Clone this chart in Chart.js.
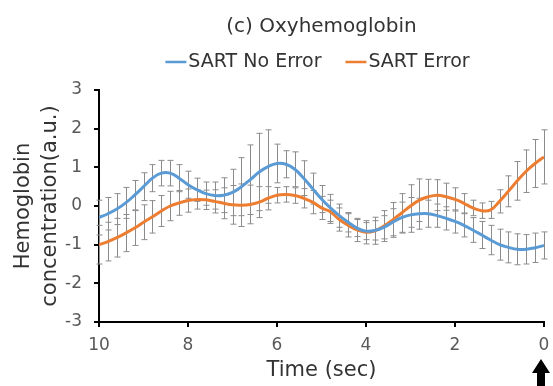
<!DOCTYPE html>
<html>
<head>
<meta charset="utf-8">
<script src="https://cdn.jsdelivr.net/npm/chart.js@4"></script>
<style>
  html, body { margin: 0; padding: 0; background: #fff; }
  #wrap { width: 553px; height: 386px; }
</style>
</head>
<body>
<div id="wrap"><canvas id="mychart" width="553" height="386"></canvas></div>
<script>
// time (sec) counted back to the event
var times = [10, 9.8, 9.6, 9.4, 9.2, 9, 8.8, 8.6, 8.4, 8.2, 8, 7.8, 7.6, 7.4, 7.2, 7, 6.8, 6.6, 6.4, 6.2,
  6, 5.8, 5.6, 5.4, 5.2, 5, 4.8, 4.6, 4.4, 4.2, 4, 3.8, 3.6, 3.4, 3.2, 3, 2.8, 2.6, 2.4, 2.2,
  2, 1.8, 1.6, 1.4, 1.2, 1, 0.8, 0.6, 0.4, 0.2, 0];

var noError = [-0.3, -0.2, -0.08, 0.08, 0.28, 0.5, 0.72, 0.85, 0.85, 0.72, 0.55, 0.42, 0.32, 0.27, 0.28, 0.35, 0.5, 0.68, 0.88, 1.02,
  1.1, 1.08, 0.95, 0.72, 0.45, 0.18, -0.05, -0.25, -0.42, -0.57, -0.65, -0.63, -0.55, -0.42, -0.3, -0.23, -0.2, -0.2, -0.25, -0.32,
  -0.4, -0.5, -0.62, -0.75, -0.88, -1.0, -1.07, -1.12, -1.12, -1.08, -1.02];
var noErrorSd = [0.45, 0.42, 0.4, 0.4, 0.38, 0.36, 0.35, 0.33, 0.33, 0.35, 0.35, 0.3, 0.3, 0.35, 0.45, 0.6, 0.75, 0.9, 1.0, 0.95,
  0.5, 0.35, 0.45, 0.45, 0.4, 0.35, 0.35, 0.3, 0.25, 0.22, 0.22, 0.25, 0.3, 0.35, 0.4, 0.45, 0.4, 0.35, 0.3, 0.3,
  0.3, 0.3, 0.32, 0.35, 0.38, 0.4, 0.4, 0.4, 0.38, 0.38, 0.35];

var withError = [-1.0, -0.92, -0.82, -0.7, -0.57, -0.42, -0.28, -0.13, 0.0, 0.08, 0.14, 0.17, 0.16, 0.12, 0.07, 0.03, 0.02, 0.04, 0.1, 0.2,
  0.28, 0.3, 0.27, 0.2, 0.1, -0.05, -0.15, -0.35, -0.5, -0.62, -0.68, -0.64, -0.52, -0.36, -0.18, 0.0, 0.15, 0.24, 0.28, 0.24,
  0.17, 0.07, -0.05, -0.12, -0.1, 0.12, 0.38, 0.65, 0.9, 1.1, 1.27];
var withErrorSd = [0.5, 0.5, 0.5, 0.48, 0.45, 0.45, 0.42, 0.4, 0.38, 0.32, 0.3, 0.25, 0.25, 0.3, 0.4, 0.5, 0.55, 0.5, 0.4, 0.3,
  0.2, 0.2, 0.2, 0.25, 0.3, 0.3, 0.3, 0.3, 0.3, 0.3, 0.3, 0.35, 0.4, 0.45, 0.5, 0.55, 0.55, 0.45, 0.4, 0.35,
  0.3, 0.25, 0.2, 0.2, 0.22, 0.3, 0.4, 0.5, 0.55, 0.62, 0.7];

var labels = ['SART No Error', 'SART Error'];
var colorbox = ['#5B9BD5', '#ED7D31'];
var fontFam = '"DejaVu Sans", "Noto Sans", sans-serif';

function toPoints(vals) {
  var pts = [];
  for (var i = 0; i < times.length; i++) {
    pts.push({ x: times[i], y: vals[i] });
  }
  return pts;
}

// grey error bars, drawn under the lines
var errorBars = {
  id: 'errorBars',
  beforeDatasetsDraw: function (chart) {
    var ctx = chart.ctx;
    var xs = chart.scales.x, ys = chart.scales.y;
    var sets = [[noError, noErrorSd], [withError, withErrorSd]];
    ctx.save();
    ctx.strokeStyle = '#8c8c8c';
    ctx.lineWidth = 1;
    for (var s = 0; s < sets.length; s++) {
      var v = sets[s][0], sd = sets[s][1];
      for (var i = 0; i < times.length; i++) {
        var px = Math.round(xs.getPixelForValue(times[i])) + 0.5;
        var top = ys.getPixelForValue(v[i] + sd[i]);
        var bot = ys.getPixelForValue(v[i] - sd[i]);
        ctx.beginPath();
        ctx.moveTo(px, top); ctx.lineTo(px, bot);
        ctx.moveTo(px - 3, top); ctx.lineTo(px + 3, top);
        ctx.moveTo(px - 3, bot); ctx.lineTo(px + 3, bot);
        ctx.stroke();
      }
    }
    ctx.restore();
  }
};

// title, legend and the arrow under time 0
var decor = {
  id: 'decor',
  afterDraw: function (chart) {
    var ctx = chart.ctx;
    var area = chart.chartArea;
    var mid = (area.left + area.right) / 2;
    ctx.save();
    ctx.fillStyle = '#333';
    ctx.font = '20px ' + fontFam;
    ctx.textAlign = 'center';
    ctx.textBaseline = 'middle';
    ctx.fillText('(c) Oxyhemoglobin', mid, 27);

    ctx.font = '19px ' + fontFam;
    ctx.textAlign = 'left';
    var lineLen = 21, gap = 24;
    var total = 0;
    for (var i = 0; i < labels.length; i++) {
      total += lineLen + 2 + ctx.measureText(labels[i]).width;
    }
    total += gap;
    var lx = mid - 4 - total / 2;
    for (var j = 0; j < labels.length; j++) {
      ctx.strokeStyle = colorbox[j];
      ctx.lineWidth = 2.5;
      ctx.beginPath();
      ctx.moveTo(lx, 62); ctx.lineTo(lx + lineLen, 62);
      ctx.stroke();
      ctx.fillStyle = '#333';
      ctx.fillText(labels[j], lx + lineLen + 2, 62);
      lx += lineLen + 2 + ctx.measureText(labels[j]).width + gap;
    }

    var ax = chart.scales.x.getPixelForValue(0) - 3;
    ctx.fillStyle = '#000';
    ctx.beginPath();
    ctx.moveTo(ax, 359);
    ctx.lineTo(ax + 9, 373);
    ctx.lineTo(ax + 4, 373);
    ctx.lineTo(ax + 4, 386);
    ctx.lineTo(ax - 4, 386);
    ctx.lineTo(ax - 4, 373);
    ctx.lineTo(ax - 9, 373);
    ctx.closePath();
    ctx.fill();
    ctx.restore();
  }
};

var ctx = document.getElementById('mychart').getContext('2d');
var mychart = new Chart(ctx, {
  type: 'line',
  data: {
    datasets: [{
      label: labels[0],
      data: toPoints(noError),
      borderColor: colorbox[0],
      borderWidth: 3,
      pointRadius: 0,
      tension: 0.4
    }, {
      label: labels[1],
      data: toPoints(withError),
      borderColor: colorbox[1],
      borderWidth: 3,
      pointRadius: 0,
      tension: 0.4
    }]
  },
  options: {
    responsive: false,
    animation: false,
    layout: { padding: { top: 90, right: 9, left: 0, bottom: 0 } },
    plugins: {
      legend: { display: false },
      title: { display: false },
      tooltip: { enabled: false }
    },
    scales: {
      x: {
        type: 'linear',
        reverse: true,
        min: 0,
        max: 10,
        afterFit: function (s) { s.height = 64; s.paddingRight = 0; s.paddingLeft = 0; },
        ticks: {
          stepSize: 2,
          color: '#595959',
          padding: 8,
          font: { size: 17, family: fontFam }
        },
        grid: { drawOnChartArea: false, drawTicks: true, tickLength: 5, color: '#000', lineWidth: 2 },
        border: { color: '#000', width: 2 },
        title: {
          display: true,
          text: 'Time (sec)',
          color: '#333',
          padding: { top: 0, bottom: 3 },
          font: { size: 21, family: fontFam }
        }
      },
      y: {
        min: -3,
        max: 3,
        afterFit: function (s) { s.width = 99; },
        ticks: {
          stepSize: 1,
          color: '#595959',
          padding: 12,
          font: { size: 17, family: fontFam }
        },
        grid: { drawOnChartArea: false, drawTicks: true, tickLength: 5, color: '#000', lineWidth: 2 },
        border: { color: '#000', width: 2 },
        title: {
          display: true,
          text: ['Hemoglobin', 'concentration(a.u.)'],
          color: '#333',
          padding: { top: 10, bottom: 10 },
          font: { size: 21, family: fontFam, lineHeight: 1.28 }
        }
      }
    }
  },
  plugins: [errorBars, decor]
});
</script>
</body>
</html>
